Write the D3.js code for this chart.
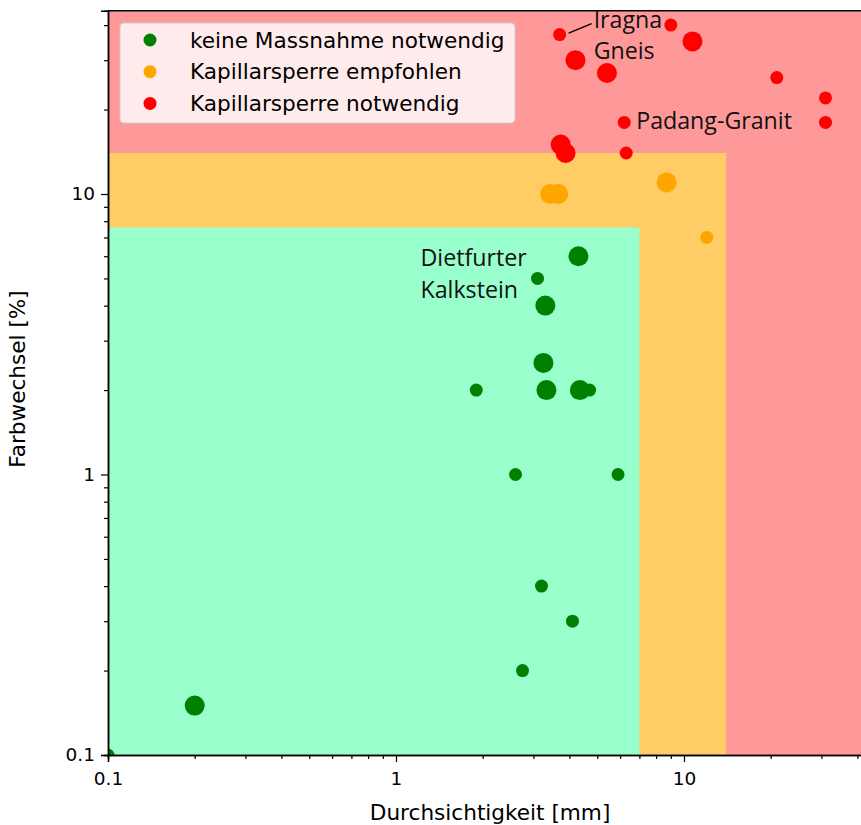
<!DOCTYPE html>
<html>
<head>
<meta charset="utf-8">
<script src="https://cdn.jsdelivr.net/npm/d3@7"></script>
<style>
  html, body { margin: 0; padding: 0; background: #fff; }
  svg { display: block; }
</style>
</head>
<body>
<svg id="chart" width="861" height="825"></svg>
<script>
// ---- Data ----
const seriesNames = ["keine Massnahme notwendig", "Kapillarsperre empfohlen", "Kapillarsperre notwendig"];

const greenX = [4.3, 3.1, 3.3, 3.25, 1.9, 3.33, 4.35, 4.7, 2.6, 5.9, 3.2, 4.1, 2.75, 0.2, 0.1];
const greenY = [6, 5, 4, 2.5, 2, 2, 2, 2, 1, 1, 0.4, 0.3, 0.2, 0.15, 0.1];
const greenW = [2, 1, 2, 2, 1, 2, 2, 1, 1, 1, 1, 1, 1, 2, 1];

const orangeX = [3.43, 3.66, 8.7, 12];
const orangeY = [10, 10, 11, 7];
const orangeW = [2, 2, 2, 1];

const redX = [3.7, 9.0, 10.7, 4.2, 5.4, 21, 31, 6.2, 31, 3.73, 3.88, 6.3];
const redY = [37, 40, 35, 30, 27, 26, 22, 18, 18, 15, 14, 14];
const redW = [1, 1, 2, 2, 2, 1, 1, 1, 1, 2, 2, 1];

// zone limits [x, y]
const zoneGreen = [7, 7.6];
const zoneOrange = [14, 14];

const xTicks = [0.1, 1, 10];
const yTicks = [0.1, 1, 10];
const xDomain = [0.1, 45];
const yDomain = [0.1, 45];

const labels = [
  {text: ["Iragna", "Gneis"], x: 3.7, y: 37},
  {text: ["Padang-Granit"], x: 6.2, y: 18},
  {text: ["Dietfurter", "Kalkstein"], x: 3.1, y: 5}
];

// ---- Layout ----
const svg = d3.select("#chart");
const mLeft = 108, mTop = 10.7, mBottom = 755;
const decX = 288, decY = 280.5;
const x = d3.scaleLog().domain(xDomain).range([mLeft, mLeft + decX * Math.log10(xDomain[1] / xDomain[0])]);
const y = d3.scaleLog().domain(yDomain).range([mBottom, mBottom - decY * Math.log10(yDomain[1] / yDomain[0])]);
const mRight = x.range()[1];

const colors = {bgRed: "#ff9999", bgOrange: "#ffcc66", bgGreen: "#99ffcc",
  green: "#008000", orange: "#ffa500", red: "#ff0000"};
const rScale = d3.scaleOrdinal().domain([1, 2]).range([6.5, 10]);

svg.append("defs").append("clipPath").attr("id", "plotclip")
  .append("rect").attr("x", mLeft).attr("y", mTop).attr("width", mRight - mLeft).attr("height", mBottom - mTop);

const plot = svg.append("g").attr("clip-path", "url(#plotclip)");

plot.append("rect").attr("x", mLeft).attr("y", mTop).attr("width", mRight - mLeft).attr("height", mBottom - mTop)
  .attr("fill", colors.bgRed);
plot.append("rect").attr("x", x(0.1)).attr("y", y(zoneOrange[1]))
  .attr("width", x(zoneOrange[0]) - x(0.1)).attr("height", y(0.1) - y(zoneOrange[1]))
  .attr("fill", colors.bgOrange);
plot.append("rect").attr("x", x(0.1)).attr("y", y(zoneGreen[1]))
  .attr("width", x(zoneGreen[0]) - x(0.1)).attr("height", y(0.1) - y(zoneGreen[1]))
  .attr("fill", colors.bgGreen);

function drawSeries(xs, ys, ws, color) {
  const pts = xs.map((v, i) => ({x: v, y: ys[i], w: ws[i]}));
  plot.append("g").selectAll("circle").data(pts).join("circle")
    .attr("cx", d => x(d.x)).attr("cy", d => y(d.y)).attr("r", d => rScale(d.w))
    .attr("fill", color);
}
drawSeries(greenX, greenY, greenW, colors.green);
drawSeries(orangeX, orangeY, orangeW, colors.orange);
drawSeries(redX, redY, redW, colors.red);

// ---- Annotations ----
const annFont = "'Open Sans', sans-serif";
const annSize = 23.2;
// Iragna
{
  const L = labels[0];
  const px = x(L.x), py = y(L.y);
  svg.append("line").attr("x1", px + 9).attr("y1", py - 1.5).attr("x2", px + 32).attr("y2", py - 11)
    .attr("stroke", "#000").attr("stroke-width", 1.5);
  L.text.forEach((t, i) => svg.append("text").attr("x", px + 34).attr("y", py - 7 + i * 31.5)
    .attr("font-family", annFont).attr("font-size", annSize).attr("fill", "#111").text(t));
}
// Padang-Granit
{
  const L = labels[1];
  const px = x(L.x), py = y(L.y);
  svg.append("text").attr("x", px + 12).attr("y", py + 6.5)
    .attr("font-family", annFont).attr("font-size", annSize).attr("fill", "#111").text(L.text[0]);
}
// Dietfurter Kalkstein
{
  const L = labels[2];
  const px = x(L.x), py = y(L.y);
  L.text.forEach((t, i) => svg.append("text").attr("x", px - 117).attr("y", py - 12 + i * 31.5)
    .attr("font-family", annFont).attr("font-size", annSize).attr("fill", "#111").text(t));
}

// ---- Axes ----
const axFont = "'DejaVu Sans', sans-serif";
const labelSize = 21.6;
const minorX = [], minorY = [];
[0.1, 1, 10].forEach(d => { for (let k = 2; k <= 9; k++) { const v = d * k; if (v <= xDomain[1]) minorX.push(v); if (v <= yDomain[1]) minorY.push(v); } });

const xAxis = svg.append("g").attr("transform", `translate(0,${mBottom})`)
  .call(d3.axisBottom(x).tickValues(xTicks).tickFormat(d3.format("~g")).tickSize(7).tickPadding(10));
const xMinor = svg.append("g").attr("transform", `translate(0,${mBottom})`)
  .call(d3.axisBottom(x).tickValues(minorX).tickFormat("").tickSize(4));
const yAxis = svg.append("g").attr("transform", `translate(${mLeft},0)`)
  .call(d3.axisLeft(y).tickValues(yTicks).tickFormat(d3.format("~g")).tickSize(7).tickPadding(6));
const yMinor = svg.append("g").attr("transform", `translate(${mLeft},0)`)
  .call(d3.axisLeft(y).tickValues(minorY).tickFormat("").tickSize(4));

[xAxis, xMinor, yAxis, yMinor].forEach(g => {
  g.select(".domain").attr("stroke", "#000").attr("stroke-width", 1.5);
  g.selectAll(".tick line").attr("stroke", "#000").attr("stroke-width", 1.2);
  g.selectAll(".tick text").attr("font-family", axFont).attr("font-size", 18.5).attr("fill", "#000");
});
// top spine
svg.append("line").attr("x1", mLeft).attr("x2", mRight).attr("y1", mTop).attr("y2", mTop)
  .attr("stroke", "#000").attr("stroke-width", 1.5);

svg.append("text").attr("x", (mLeft + mRight) / 2).attr("y", 820).attr("text-anchor", "middle")
  .attr("font-family", axFont).attr("font-size", labelSize).attr("fill", "#000").text("Durchsichtigkeit [mm]");
svg.append("text").attr("transform", `translate(25,379) rotate(-90)`).attr("text-anchor", "middle")
  .attr("font-family", axFont).attr("font-size", labelSize).attr("fill", "#000").text("Farbwechsel [%]");

// ---- Legend ----
const lg = svg.append("g");
lg.append("rect").attr("x", 120).attr("y", 23).attr("width", 395).attr("height", 100).attr("rx", 4)
  .attr("fill", "#fff").attr("fill-opacity", 0.8).attr("stroke", "#ccc").attr("stroke-width", 1);
const legColors = [colors.green, colors.orange, colors.red];
seriesNames.forEach((n, i) => {
  const cy = 40 + i * 31.7;
  lg.append("circle").attr("cx", 150).attr("cy", cy).attr("r", 6.5).attr("fill", legColors[i]);
  lg.append("text").attr("x", 190).attr("y", cy).attr("dy", "0.35em")
    .attr("font-family", axFont).attr("font-size", labelSize).attr("fill", "#000").text(n);
});
</script>
</body>
</html>
